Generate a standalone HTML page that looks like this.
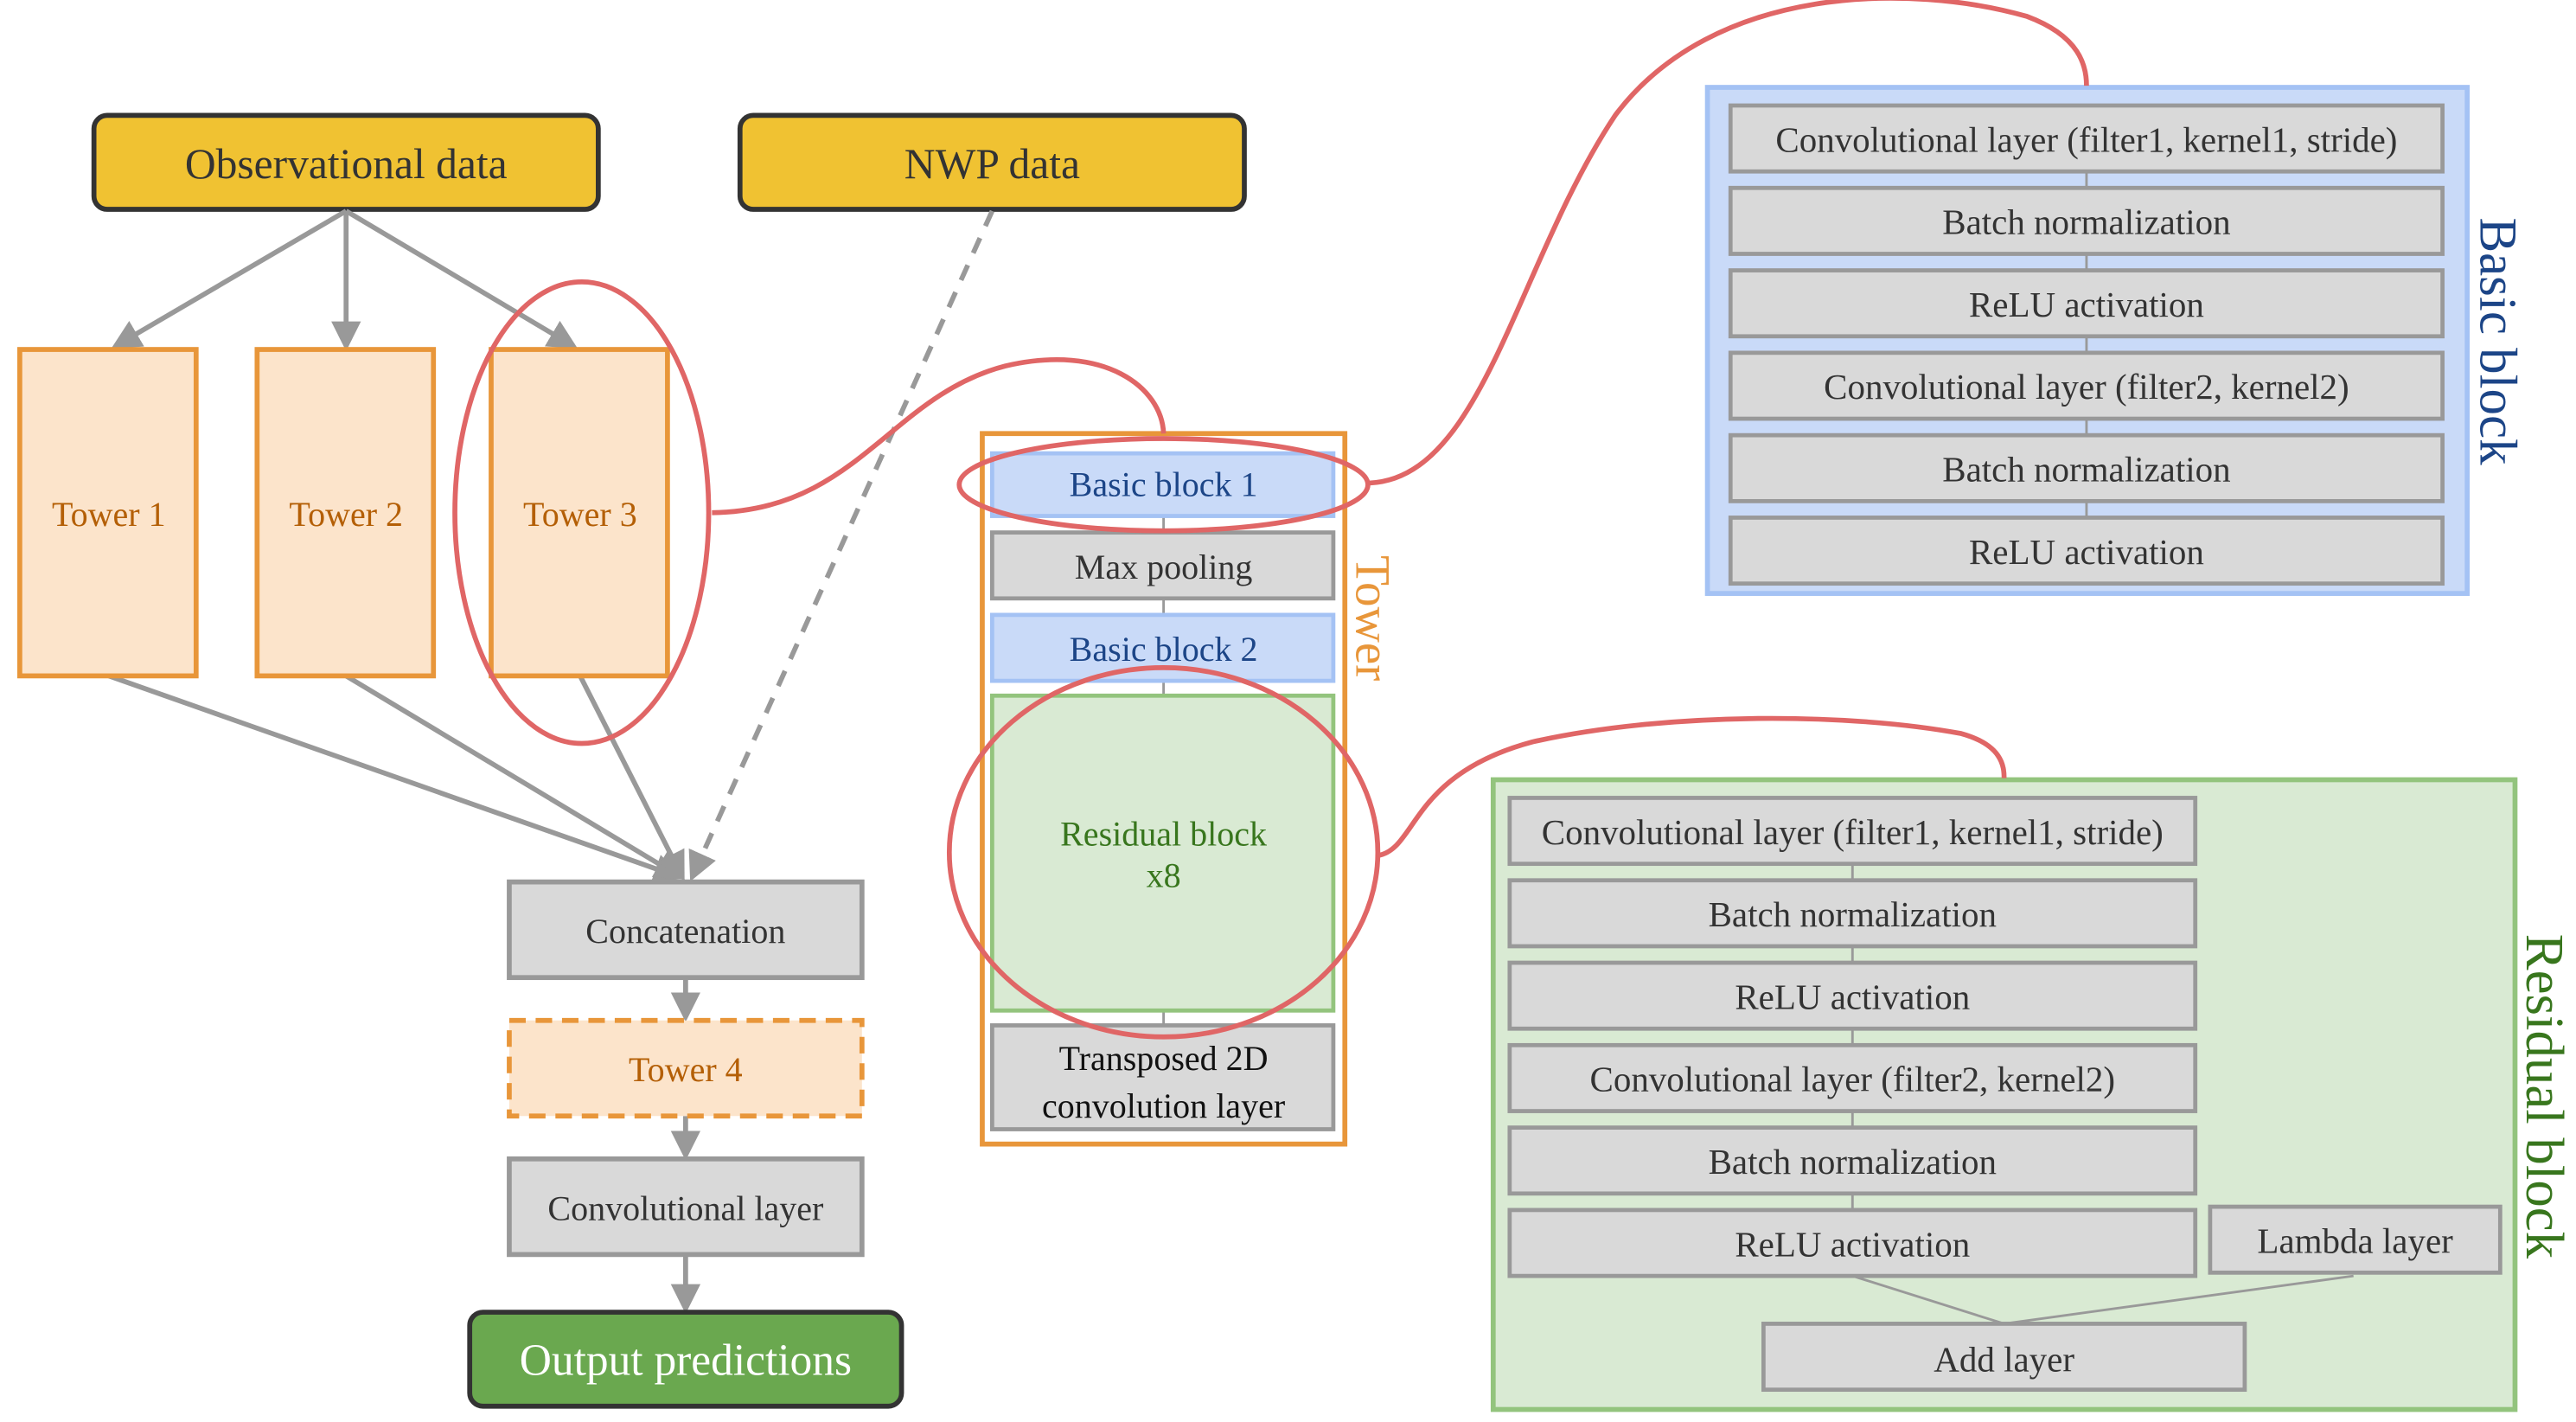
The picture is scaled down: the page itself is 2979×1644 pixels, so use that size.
<!DOCTYPE html>
<html><head><meta charset="utf-8"><style>
html,body{margin:0;padding:0;background:#fff;}
svg{display:block;}
text{font-family:"Liberation Serif",serif;}
</style></head><body>
<svg width="2979" height="1644" viewBox="0 0 1563 862.6" preserveAspectRatio="none" xmlns="http://www.w3.org/2000/svg">
<defs>
<marker id="ah" markerWidth="6" markerHeight="6" refX="5" refY="3" orient="auto" markerUnits="strokeWidth">
<path d="M0,0 L6,3 L0,6 z" fill="#999"/></marker>
</defs>
<rect width="1563" height="863" fill="#fff"/>
<g fill="#F0C232" stroke="#333" stroke-width="3">
<rect x="57" y="70" width="306" height="57" rx="8"/>
<rect x="449" y="70" width="306" height="57" rx="8"/>
</g>
<g font-size="26" fill="#333" text-anchor="middle">
<text x="210" y="108">Observational data</text>
<text x="602" y="108">NWP data</text>
</g>
<g stroke="#999" stroke-width="3" fill="none">
<line x1="210" y1="128" x2="70" y2="210" marker-end="url(#ah)"/>
<line x1="210" y1="128" x2="210" y2="210" marker-end="url(#ah)"/>
<line x1="210" y1="128" x2="348" y2="210" marker-end="url(#ah)"/>
<line x1="66" y1="410" x2="412" y2="532" marker-end="url(#ah)"/>
<line x1="210" y1="410" x2="413" y2="532" marker-end="url(#ah)"/>
<line x1="352" y1="410" x2="414" y2="532" marker-end="url(#ah)"/>
<line x1="602" y1="128" x2="420" y2="532" stroke-dasharray="10,8" marker-end="url(#ah)"/>
<line x1="416" y1="593" x2="416" y2="617" marker-end="url(#ah)"/>
<line x1="416" y1="677" x2="416" y2="701" marker-end="url(#ah)"/>
<line x1="416" y1="761" x2="416" y2="794" marker-end="url(#ah)"/>
</g>
<g fill="#FCE4CB" stroke="#E8963A" stroke-width="3">
<rect x="12" y="212" width="107" height="198"/>
<rect x="156" y="212" width="107" height="198"/>
<rect x="298" y="212" width="107" height="198"/>
<rect x="309" y="619" width="214" height="58" stroke-dasharray="10,6"/>
</g>
<g font-size="21" fill="#B45F06" text-anchor="middle">
<text x="66" y="319">Tower 1</text>
<text x="210" y="319">Tower 2</text>
<text x="352" y="319">Tower 3</text>
<text x="416" y="656">Tower 4</text>
</g>
<g fill="#D9D9D9" stroke="#999" stroke-width="3">
<rect x="309" y="535" width="214" height="58"/>
<rect x="309" y="703" width="214" height="58"/>
</g>
<g font-size="21" fill="#333" text-anchor="middle">
<text x="416" y="572">Concatenation</text>
<text x="416" y="740">Convolutional layer</text>
</g>
<rect x="285" y="796" width="262" height="57" rx="8" fill="#6AA84F" stroke="#333" stroke-width="3"/>
<text x="416" y="834" font-size="27" fill="#fff" text-anchor="middle">Output predictions</text>

<rect x="596" y="263" width="220" height="431" fill="none" stroke="#E8963A" stroke-width="3"/>
<line x1="706" y1="313" x2="706" y2="622" stroke="#999" stroke-width="1.5"/>
<text transform="translate(823,375) rotate(90)" font-size="30" fill="#E8963A" text-anchor="middle">Tower</text>
<g fill="#C9DAF8" stroke="#A4C2F4" stroke-width="2.5">
<rect x="602" y="275" width="207" height="38"/>
<rect x="602" y="373" width="207" height="40"/>
</g>
<rect x="602" y="422" width="207" height="191" fill="#D9EAD3" stroke="#93C47D" stroke-width="2.5"/>
<g fill="#D9D9D9" stroke="#999" stroke-width="2.5">
<rect x="602" y="323" width="207" height="40"/>
<rect x="602" y="622" width="207" height="63"/>
</g>
<g font-size="21" text-anchor="middle">
<text x="706" y="301" fill="#1C4587">Basic block 1</text>
<text x="706" y="351" fill="#333">Max pooling</text>
<text x="706" y="401" fill="#1C4587">Basic block 2</text>
<text x="706" y="513" fill="#38761D">Residual block</text>
<text x="706" y="538" fill="#38761D">x8</text>
<text x="706" y="649" fill="#111">Transposed 2D</text>
<text x="706" y="678" fill="#111">convolution layer</text>
</g>

<rect x="1036" y="53" width="461" height="307" fill="#C9DAF8" stroke="#A4C2F4" stroke-width="3"/>
<line x1="1266" y1="104" x2="1266" y2="314" stroke="#999" stroke-width="1.5"/>
<g fill="#D9D9D9" stroke="#999" stroke-width="2.5">
<rect x="1050" y="64" width="432" height="40"/>
<rect x="1050" y="114" width="432" height="40"/>
<rect x="1050" y="164" width="432" height="40"/>
<rect x="1050" y="214" width="432" height="40"/>
<rect x="1050" y="264" width="432" height="40"/>
<rect x="1050" y="314" width="432" height="40"/>
</g>
<g font-size="21.5" fill="#333" text-anchor="middle">
<text x="1266" y="92">Convolutional layer (filter1, kernel1, stride)</text>
<text x="1266" y="142">Batch normalization</text>
<text x="1266" y="192">ReLU activation</text>
<text x="1266" y="242">Convolutional layer (filter2, kernel2)</text>
<text x="1266" y="292">Batch normalization</text>
<text x="1266" y="342">ReLU activation</text>
</g>
<text transform="translate(1505,207) rotate(90)" font-size="32" fill="#1C4587" text-anchor="middle">Basic block</text>

<rect x="906" y="473" width="620" height="382" fill="#D9EAD3" stroke="#93C47D" stroke-width="3"/>
<line x1="1124" y1="524" x2="1124" y2="734" stroke="#999" stroke-width="1.5"/>
<line x1="1124" y1="774" x2="1216" y2="803" stroke="#999" stroke-width="1.5"/>
<line x1="1428" y1="774" x2="1216" y2="803" stroke="#999" stroke-width="1.5"/>
<g fill="#D9D9D9" stroke="#999" stroke-width="2.5">
<rect x="916" y="484" width="416" height="40"/>
<rect x="916" y="534" width="416" height="40"/>
<rect x="916" y="584" width="416" height="40"/>
<rect x="916" y="634" width="416" height="40"/>
<rect x="916" y="684" width="416" height="40"/>
<rect x="916" y="734" width="416" height="40"/>
<rect x="1341" y="732" width="176" height="40"/>
<rect x="1070" y="803" width="292" height="40"/>
</g>
<g font-size="21.5" fill="#333" text-anchor="middle">
<text x="1124" y="512">Convolutional layer (filter1, kernel1, stride)</text>
<text x="1124" y="562">Batch normalization</text>
<text x="1124" y="612">ReLU activation</text>
<text x="1124" y="662">Convolutional layer (filter2, kernel2)</text>
<text x="1124" y="712">Batch normalization</text>
<text x="1124" y="762">ReLU activation</text>
<text x="1429" y="760">Lambda layer</text>
<text x="1216" y="832">Add layer</text>
</g>
<text transform="translate(1533,665) rotate(90)" font-size="33" fill="#38761D" text-anchor="middle">Residual block</text>

<g fill="none" stroke="#E06666" stroke-width="3">
<ellipse cx="353" cy="311" rx="77" ry="140"/>
<ellipse cx="706" cy="294" rx="124" ry="28"/>
<ellipse cx="706" cy="517" rx="130" ry="112"/>
<path d="M432,311 C520,310 540,240 610,222 C670,208 705,235 706,263"/>
<path d="M831,293 C900,290 920,160 980,70 C1040,-10 1160,-10 1230,10 C1262,22 1266,40 1266,52"/>
<path d="M836,519 C860,515 855,470 930,450 C1010,432 1120,432 1190,445 C1215,452 1216,465 1216,472"/>
</g>
</svg>
</body></html>
